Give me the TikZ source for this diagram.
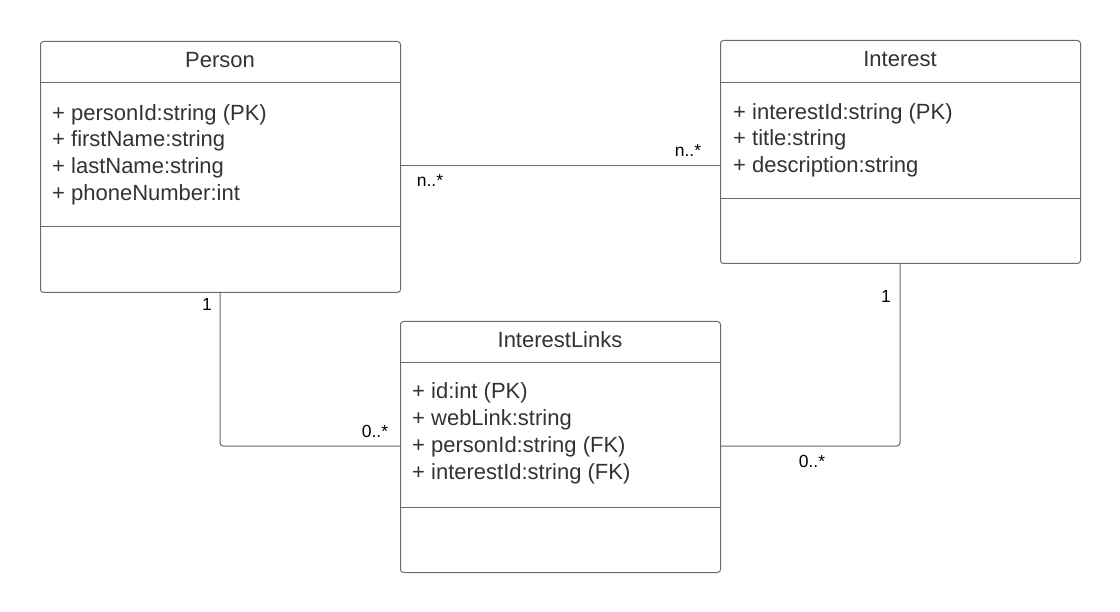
\documentclass[tikz,border=0pt]{standalone}
\usepackage{fontspec}
\setmainfont{Liberation Sans}
\begin{document}
\begin{tikzpicture}[x=1pt,y=-1pt,
  classbox/.style={draw=linegray, line width=1pt, rounded corners=3pt, anchor=north west, inner sep=0pt},
  title/.style={font=\fontsize{22}{26}\selectfont, text=textgray, inner sep=0pt},
  attr/.style={font=\fontsize{22}{26}\selectfont, text=textgray, anchor=west, inner sep=0pt},
  mult/.style={font=\fontsize{17.5}{21}\selectfont, text=black, inner sep=0pt},
  divider/.style={draw=linegray, line width=1pt},
  conn/.style={draw=linegray, line width=1pt, rounded corners=3pt}]
\definecolor{linegray}{HTML}{6B6B6B}
\definecolor{textgray}{HTML}{333333}
\useasboundingbox (0,0) rectangle (1120,612);
\fill[white] (0,0) rectangle (1120,612);

% Person
\node[classbox, minimum width=360pt, minimum height=251pt] (person) at (40,41) {};
\draw[divider] (40,83) -- (400,83);
\draw[divider] (40,227) -- (400,227);
\node[title] (ptitle) at (220,60) {Person};
\node[attr] (p1) at (52,115) {+ personId:string (PK)};
\node[attr] (p2) at (52,141) {+ firstName:string};
\node[attr] (p3) at (52,168) {+ lastName:string};
\node[attr] (p4) at (52,195) {+ phoneNumber:int};

% Interest
\node[classbox, minimum width=360pt, minimum height=223pt] (interest) at (720,40) {};
\draw[divider] (720,83) -- (1080,83);
\draw[divider] (720,199) -- (1080,199);
\node[title] (ititle) at (900,59) {Interest};
\node[attr] (i1) at (733,114) {+ interestId:string (PK)};
\node[attr] (i2) at (733,140) {+ title:string};
\node[attr] (i3) at (733,167) {+ description:string};

% InterestLinks
\node[classbox, minimum width=320pt, minimum height=251pt] (links) at (400,321) {};
\draw[divider] (400,363) -- (720,363);
\draw[divider] (400,507) -- (720,507);
\node[title] (ltitle) at (560,340) {InterestLinks};
\node[attr] (l1) at (412,393) {+ id:int (PK)};
\node[attr] (l2) at (412,420) {+ webLink:string};
\node[attr] (l3) at (412,447) {+ personId:string (FK)};
\node[attr] (l4) at (412,474) {+ interestId:string (FK)};

% connectors
\coordinate (pi1) at (400,166);
\coordinate (pi2) at (720,166);
\draw[conn] (pi1) -- (pi2);
\coordinate (pl1) at (220,292);
\coordinate (pl2) at (400,446);
\draw[conn] (pl1) |- (pl2);
\coordinate (il1) at (900,263);
\coordinate (il2) at (720,446);
\draw[conn] (il1) |- (il2);

% multiplicities
\node[mult] (m1) at (430,180) {n..*};
\node[mult] (m2) at (688,150) {n..*};
\node[mult] (m3) at (207,304) {1};
\node[mult] (m4) at (375,431) {0..*};
\node[mult] (m5) at (886,296) {1};
\node[mult] (m6) at (812,461) {0..*};
\end{tikzpicture}
\end{document}
